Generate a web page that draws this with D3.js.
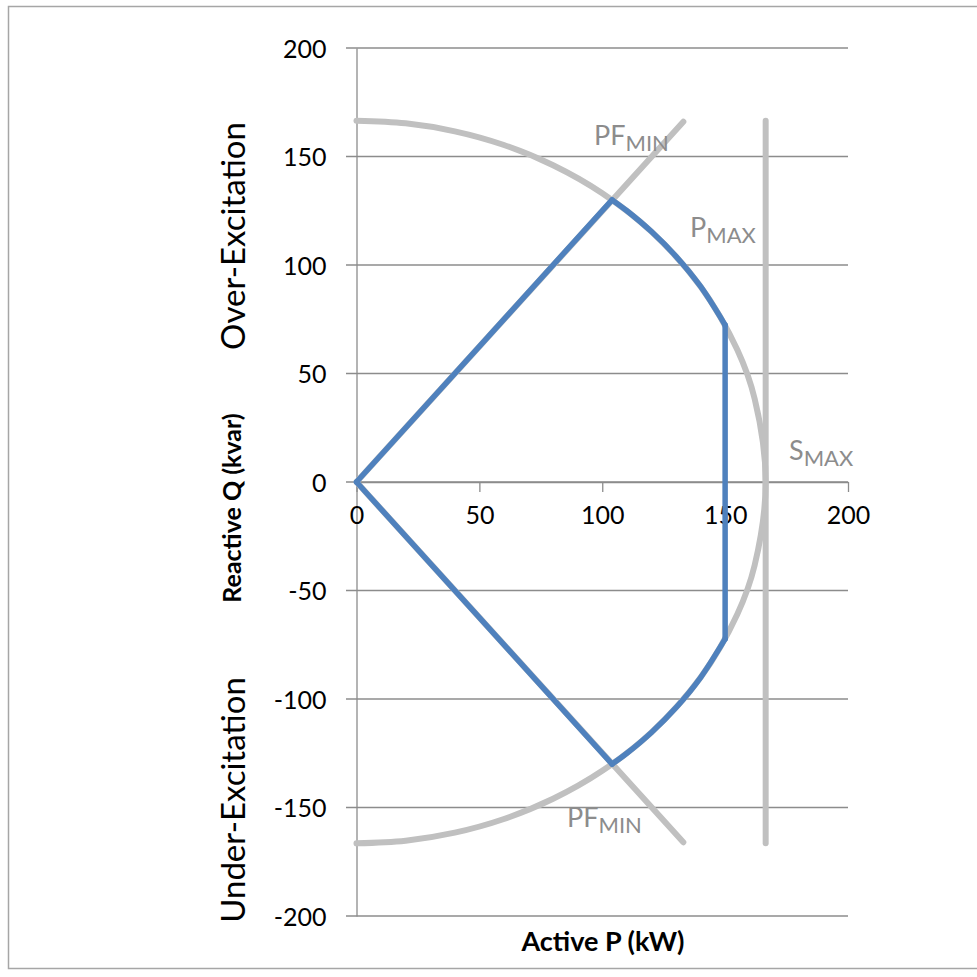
<!DOCTYPE html>
<html>
<head>
<meta charset="utf-8">
<script src="https://cdn.jsdelivr.net/npm/d3@7"></script>
<style>
  body { margin: 0; background: #fff; }
  text { font-family: Lato, "Open Sans", sans-serif; }
</style>
</head>
<body>
<div id="chart"></div>
<script>
// capability curve data (kW / kvar)
var limitP = [0, 104, 110, 120, 130, 140, 150, 150, 140, 130, 120, 110, 104, 0];
var limitQ = [0, 130, 125, 115.4, 104, 90.1, 72.3, -72.3, -90.1, -104, -115.4, -125, -130, 0];

var sP = [0, 20, 40, 60, 80, 100, 120, 140, 155, 162, 166.5, 162, 155, 140, 120, 100, 80, 60, 40, 20, 0];
var sQ = [166.5, 165.3, 161.6, 155.3, 146, 133.1, 115.4, 90.1, 60.8, 38.4, 0, -38.4, -60.8, -90.1, -115.4, -133.1, -146, -155.3, -161.6, -165.3, -166.5];

var pfTopP = [0, 133], pfTopQ = [0, 166];
var pfBotP = [0, 133], pfBotQ = [0, -166];
var smaxP = [166.5, 166.5], smaxQ = [166.5, -166.5];

var xTicks = [0, 50, 100, 150, 200];
var yTicks = [-200, -150, -100, -50, 0, 50, 100, 150, 200];

var labels = [
  {main: 'PF', sub: 'MIN', x: 594, y: 145},
  {main: 'P', sub: 'MAX', x: 690, y: 237},
  {main: 'S', sub: 'MAX', x: 789, y: 460},
  {main: 'PF', sub: 'MIN', x: 567, y: 827}
];

var w = 977, h = 977;
var svg = d3.select('#chart').append('svg')
  .attr('width', w)
  .attr('height', h);

svg.append('rect')
  .attr('x', 8.5).attr('y', 6.5)
  .attr('width', 1000).attr('height', 962)
  .attr('fill', 'none')
  .attr('stroke', '#a6a6a6')
  .attr('stroke-width', 1.5);

var x = d3.scaleLinear().domain([0, 200]).range([356.5, 848]);
var y = d3.scaleLinear().domain([-200, 200]).range([916, 48]);
var plain = function(d) { return String(d); };

// horizontal gridlines
svg.append('g').selectAll('line')
  .data(yTicks)
  .enter().append('line')
  .attr('x1', 346).attr('x2', x(200))
  .attr('y1', function(d) { return y(d); })
  .attr('y2', function(d) { return y(d); })
  .attr('stroke', '#8c8c8c')
  .attr('stroke-width', 1.3);

// y axis
var yAxis = svg.append('g')
  .attr('transform', 'translate(' + x(0) + ',0)')
  .call(d3.axisLeft(y).tickValues(yTicks).tickFormat(plain).tickSize(0).tickPadding(30));
yAxis.select('.domain').attr('stroke', '#8c8c8c').attr('stroke-width', 1.3);
yAxis.selectAll('text')
  .attr('font-size', 25)
  .attr('font-family', 'Lato, sans-serif')
  .attr('fill', '#000')
  .attr('dy', '0.36em');

// x axis through zero
var xAxis = svg.append('g')
  .attr('transform', 'translate(0,' + y(0) + ')')
  .call(d3.axisBottom(x).tickValues(xTicks).tickFormat(plain).tickSize(10).tickSizeOuter(0).tickPadding(14));
xAxis.select('.domain').attr('stroke', '#8c8c8c').attr('stroke-width', 1.3);
xAxis.selectAll('.tick line').attr('stroke', '#8c8c8c').attr('stroke-width', 1.3);
xAxis.selectAll('text')
  .attr('font-size', 25)
  .attr('font-family', 'Lato, sans-serif')
  .attr('fill', '#000');

function pts(ps, qs) {
  return ps.map(function(p, i) { return {p: p, q: qs[i]}; });
}

var straight = d3.line()
  .x(function(d) { return x(d.p); })
  .y(function(d) { return y(d.q); });

var smooth = d3.line()
  .x(function(d) { return x(d.p); })
  .y(function(d) { return y(d.q); })
  .curve(d3.curveCatmullRom);

var grey = '#c0c0c0';

svg.append('path')
  .datum(pts(sP, sQ))
  .attr('d', smooth)
  .attr('fill', 'none').attr('stroke', grey)
  .attr('stroke-width', 6).attr('stroke-linecap', 'round');

[[pfTopP, pfTopQ], [pfBotP, pfBotQ], [smaxP, smaxQ]].forEach(function(s) {
  svg.append('path')
    .datum(pts(s[0], s[1]))
    .attr('d', straight)
    .attr('fill', 'none').attr('stroke', grey)
    .attr('stroke-width', 6).attr('stroke-linecap', 'round');
});

// operating limit: straight edges, smoothed arcs
var lim = pts(limitP, limitQ);
var pieces = [
  [lim.slice(0, 2), straight],
  [lim.slice(1, 7), smooth],
  [lim.slice(6, 8), straight],
  [lim.slice(7, 13), smooth],
  [lim.slice(12, 14), straight]
];
pieces.forEach(function(pc) {
  svg.append('path')
    .datum(pc[0])
    .attr('d', pc[1])
    .attr('fill', 'none')
    .attr('stroke', '#4f81bd')
    .attr('stroke-width', 5.5)
    .attr('stroke-linecap', 'round')
    .attr('stroke-linejoin', 'round');
});

// curve labels
labels.forEach(function(l) {
  var t = svg.append('text')
    .attr('x', l.x).attr('y', l.y)
    .attr('fill', '#8c8c8c')
    .attr('font-size', 27);
  t.append('tspan').text(l.main);
  t.append('tspan').attr('font-size', 22).attr('dy', 6).text(l.sub);
});

// axis titles
svg.append('text')
  .attr('transform', 'translate(241,508) rotate(-90)')
  .attr('text-anchor', 'middle')
  .attr('font-size', 25)
  .attr('font-weight', 'bold')
  .text('Reactive Q (kvar)');

svg.append('text')
  .attr('transform', 'translate(245,236) rotate(-90)')
  .attr('text-anchor', 'middle')
  .attr('font-size', 33)
  .text('Over-Excitation');

svg.append('text')
  .attr('transform', 'translate(245,800) rotate(-90)')
  .attr('text-anchor', 'middle')
  .attr('font-size', 33)
  .text('Under-Excitation');

svg.append('text')
  .attr('x', 603).attr('y', 951)
  .attr('text-anchor', 'middle')
  .attr('font-size', 27)
  .attr('font-weight', 'bold')
  .text('Active P (kW)');
</script>
</body>
</html>
